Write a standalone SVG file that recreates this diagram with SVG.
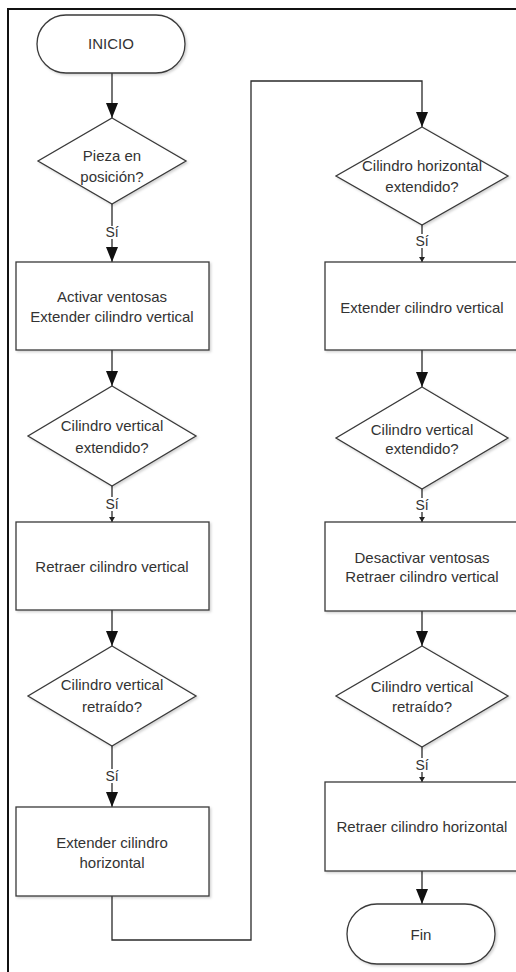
<svg xmlns="http://www.w3.org/2000/svg" width="516" height="972" viewBox="0 0 516 972">
  <style>
    .shape { fill: #ffffff; stroke: #3a3a3a; stroke-width: 1.3; filter: url(#shadow); }
    .label { font-family: "Liberation Sans", Arial, sans-serif; font-size: 15px; fill: #333333; text-anchor: middle; }
    .wire { fill: none; stroke: #2a2a2a; stroke-width: 1.3; }
    .yes { font-family: "Liberation Sans", Arial, sans-serif; font-size: 14px; fill: #333333; text-anchor: middle; }
  </style>
  <defs>
    <filter id="shadow" x="-10%" y="-10%" width="125%" height="130%">
      <feDropShadow dx="1.5" dy="1.5" stdDeviation="1" flood-color="#000000" flood-opacity="0.18"/>
    </filter>
    <!-- arrowheads drawn along +x so orient="auto" follows the wire -->
    <marker id="arrow" markerUnits="userSpaceOnUse" markerWidth="16" markerHeight="12" viewBox="0 0 16 12" refX="15" refY="6" orient="auto">
      <path d="M0,0 L15,6 L0,12 Z" fill="#111111"/>
    </marker>
    <marker id="arrow-small" markerUnits="userSpaceOnUse" markerWidth="6" markerHeight="6" viewBox="0 0 6 6" refX="5" refY="3" orient="auto">
      <path d="M0,0 L5,3 L0,6 Z" fill="#222222"/>
    </marker>
  </defs>

  <rect width="516" height="972" fill="#ffffff"/>
  <!-- page frame -->
  <rect x="8" y="9" width="520" height="975" fill="none" stroke="#111111" stroke-width="2"/>

  <!-- connectors -->
  <g id="connectors">
    <path class="wire" d="M112,73 V118" marker-end="url(#arrow)"/>
    <path class="wire" d="M112,204 V262" marker-end="url(#arrow)"/>
    <path class="wire" d="M112,350 V386" marker-end="url(#arrow)"/>
    <path class="wire" d="M112,486 V522" marker-end="url(#arrow-small)"/>
    <path class="wire" d="M112,610 V646" marker-end="url(#arrow)"/>
    <path class="wire" d="M112,746 V807" marker-end="url(#arrow)"/>
    <path class="wire" d="M112,896 V940 H251 V81 H422 V127" marker-end="url(#arrow)"/>
    <path class="wire" d="M422,225 V262" marker-end="url(#arrow-small)"/>
    <path class="wire" d="M422,350 V387" marker-end="url(#arrow)"/>
    <path class="wire" d="M422,489 V522" marker-end="url(#arrow-small)"/>
    <path class="wire" d="M422,611 V646" marker-end="url(#arrow)"/>
    <path class="wire" d="M422,747 V782" marker-end="url(#arrow-small)"/>
    <path class="wire" d="M422,871 V904" marker-end="url(#arrow)"/>

    <!-- "Sí" branch labels -->
    <rect x="104" y="226" width="16" height="13" fill="#ffffff"/>
    <text class="yes" x="112" y="237">Sí</text>
    <rect x="104" y="497" width="16" height="14" fill="#ffffff"/>
    <text class="yes" x="112" y="509">Sí</text>
    <rect x="104" y="769" width="16" height="14" fill="#ffffff"/>
    <text class="yes" x="112" y="781">Sí</text>
    <rect x="414" y="234" width="16" height="14" fill="#ffffff"/>
    <text class="yes" x="422" y="246">Sí</text>
    <rect x="414" y="498" width="16" height="14" fill="#ffffff"/>
    <text class="yes" x="422" y="510">Sí</text>
    <rect x="414" y="758" width="16" height="14" fill="#ffffff"/>
    <text class="yes" x="422" y="770">Sí</text>
  </g>

  <!-- left column -->
  <g id="inicio">
    <rect class="shape" x="37" y="15" width="148" height="58" rx="29" ry="29"/>
    <text class="label" x="111" y="49">INICIO</text>
  </g>
  <g id="pieza-en-posicion">
    <polygon class="shape" points="112,118 186,161 112,204 38,161"/>
    <text class="label" x="112" y="161">Pieza en</text>
    <text class="label" x="112" y="182">posición?</text>
  </g>
  <g id="activar-ventosas">
    <rect class="shape" x="16" y="262" width="193" height="88"/>
    <text class="label" x="112" y="302">Activar ventosas</text>
    <text class="label" x="112" y="322">Extender cilindro vertical</text>
  </g>
  <g id="vertical-extendido-1">
    <polygon class="shape" points="112,386 196,436 112,486 28,436"/>
    <text class="label" x="112" y="431">Cilindro vertical</text>
    <text class="label" x="112" y="453">extendido?</text>
  </g>
  <g id="retraer-vertical-1">
    <rect class="shape" x="16" y="522" width="193" height="88"/>
    <text class="label" x="112" y="572">Retraer cilindro vertical</text>
  </g>
  <g id="vertical-retraido-1">
    <polygon class="shape" points="112,646 196,696 112,746 28,696"/>
    <text class="label" x="112" y="690">Cilindro vertical</text>
    <text class="label" x="112" y="712">retraído?</text>
  </g>
  <g id="extender-horizontal">
    <rect class="shape" x="16" y="807" width="193" height="89"/>
    <text class="label" x="112" y="848">Extender cilindro</text>
    <text class="label" x="112" y="868">horizontal</text>
  </g>

  <!-- right column -->
  <g id="horizontal-extendido">
    <polygon class="shape" points="422,127 508,176 422,225 336,176"/>
    <text class="label" x="422" y="171">Cilindro horizontal</text>
    <text class="label" x="422" y="192">extendido?</text>
  </g>
  <g id="extender-vertical">
    <rect class="shape" x="325" y="262" width="194" height="88"/>
    <text class="label" x="422" y="313">Extender cilindro vertical</text>
  </g>
  <g id="vertical-extendido-2">
    <polygon class="shape" points="422,387 508,438 422,489 336,438"/>
    <text class="label" x="422" y="435">Cilindro vertical</text>
    <text class="label" x="422" y="454">extendido?</text>
  </g>
  <g id="desactivar-ventosas">
    <rect class="shape" x="325" y="522" width="194" height="89"/>
    <text class="label" x="422" y="563">Desactivar ventosas</text>
    <text class="label" x="422" y="582">Retraer cilindro vertical</text>
  </g>
  <g id="vertical-retraido-2">
    <polygon class="shape" points="422,646 508,696 422,747 336,696"/>
    <text class="label" x="422" y="692">Cilindro vertical</text>
    <text class="label" x="422" y="712">retraído?</text>
  </g>
  <g id="retraer-horizontal">
    <rect class="shape" x="325" y="782" width="194" height="89"/>
    <text class="label" x="422" y="832">Retraer cilindro horizontal</text>
  </g>
  <g id="fin">
    <rect class="shape" x="347" y="904" width="148" height="60" rx="30" ry="30"/>
    <text class="label" x="421" y="940">Fin</text>
  </g>
</svg>
